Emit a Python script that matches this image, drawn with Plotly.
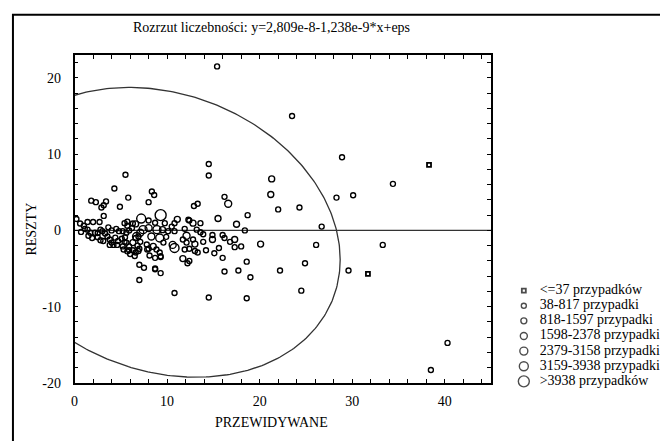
import numpy as np
import plotly.graph_objects as go

W, H = 660, 441
FONT = "Liberation Serif, Times New Roman, serif"

title_text = "Rozrzut liczebności: y=2,809e-8-1,238e-9*x+eps"
x_title = "PRZEWIDYWANE"
y_title = "RESZTY"

legend_labels = ["<=37 przypadków", "38-817 przypadki", "818-1597 przypadki",
                 "1598-2378 przypadki", "2379-3158 przypadki",
                 "3159-3938 przypadki", ">3938 przypadków"]

# points by frequency class (x = predicted, y = residual)
c0_x = [38.3, 31.7]
c0_y = [8.6, -5.7]

c1 = [(15.4,21.5),(23.5,15.0),(28.9,9.6),(34.4,6.1),(14.5,8.7),(14.5,7.2),(28.3,4.3),(30.1,4.6),
      (16.2,4.4),(18.7,2.0),(22.0,2.75),(24.3,3.0),(18.4,0.0),(26.7,0.5),(14.9,-0.6),(16.0,-0.6),
      (16.2,-1.0),(16.8,-1.5),(17.3,-2.2),(18.0,-2.1),(26.1,-1.9),(33.3,-1.9),(18.6,-4.1),(24.9,-4.3),
      (16.2,-5.4),(17.7,-5.25),(19.0,-6.15),(22.2,-5.25),(29.6,-5.25),(24.5,-7.9),(40.3,-14.75),
      (38.5,-18.3),(18.6,-8.9),(14.5,-8.8),(10.8,-8.2),(12.2,-4.3),(7.0,-6.5),(7.0,-4.5),(7.5,-4.9),
      (8.7,-5.1),(9.3,-5.6),(9.3,-3.4),(13.9,-0.5),(13.9,-1.5),
      (5.5,7.3),(4.3,5.5),(5.8,4.3),(8.35,5.1),(8.6,4.65),(8.0,3.7),(1.8,3.9),(2.3,3.7),(3.4,3.8),
      (3.15,3.3),(2.9,3.0),(4.9,3.1),(12.9,3.2),(13.3,3.5),(12.3,1.4),(0.2,1.5),(3.15,1.9),(1.4,1.1),
      (2.0,1.1),(2.7,1.1),(1.4,0.1),(1.1,0.2),(1.7,-0.3),(2.2,-0.3),(1.5,-0.7),(2.5,-0.35),(2.5,-0.9),
      (2.8,0.1),(3.0,-0.1),(3.3,-0.4),(3.55,-0.8),(2.8,-1.3),(3.1,-1.4),(3.8,-1.2),(4.0,-1.6),
      (4.4,-0.95),(3.8,-1.9),(4.2,-1.9),(4.6,-1.9),(4.7,-1.4),(5.1,-1.1),(5.4,-1.5),(5.2,-2.1),
      (5.45,-0.9),(5.4,0.95),(5.7,1.15),(5.7,0.6),(6.2,0.3),(6.3,0.9),(4.0,0.0),(4.5,0.2),(4.8,-0.1),
      (5.2,-0.1),(5.6,-0.3),(5.9,0.0),(3.65,0.4),(5.3,-2.5),(5.7,-2.75),(5.9,-2.1),(6.3,-2.6),
      (6.6,-2.9),(6.9,-2.7),(6.8,-2.0),(7.1,-1.5),(6.6,-1.0),(6.9,-0.8),
      (8.0,1.3),(8.7,1.0),(9.75,0.95),(10.5,0.5),(10.8,0.95),(12.4,1.3),(13.2,0.1),(13.6,-0.25),
      (11.9,0.2),(10.1,-0.1),(10.8,-0.1),(9.9,-0.85),(11.7,-1.2),(12.1,-1.6),(12.8,-1.2),(5.6,-1.6),
      (7.8,-1.85),(9.6,-1.6),(5.9,-2.6),(7.0,-2.4),(7.85,-2.5),(8.85,-2.5),(9.2,-2.9),(6.0,-3.1),
      (6.5,-3.35),(8.0,-2.4),(8.1,-3.3),(8.7,-3.6),(9.3,-3.5),(11.9,-2.5),(12.4,-2.4),(13.0,-2.7),
      (13.3,-2.9),(12.4,-4.0),(8.7,-5.0),(0.7,-0.2),(1.0,0.6),(0.6,0.9),(1.9,-1.0),(13.6,0.95),
      (14.2,-2.6),(15.1,-3.0),(15.6,-2.3),(16.0,-3.6)]
c1_x = [p[0] for p in c1]
c1_y = [p[1] for p in c1]

c2_x = [21.3, 21.2, 15.5, 17.5, 14.9, 17.3, 20.1, 6.6, 9.5, 12.8, 11.1, 6.3, 13.0, 11.7, 8.5]
c2_y = [6.75, 4.7, 1.55, 0.8, -1.2, -1.2, -1.8, 0.85, 0.1, 0.95, 1.45, -1.6, -1.8, -3.7, -2.1]

c3_x = [16.6, 8.0, 7.1, 10.6, 12.1, 8.3]
c3_y = [3.5, 0.3, -0.3, -1.9, -0.7, -0.8]

c4_x = [7.4, 8.9, 9.2, 6.7]
c4_y = [0.1, 0.1, -1.0, -0.8]

c5_x = [7.2, 10.8]
c5_y = [1.55, -2.3]

c6_x = [9.3]
c6_y = [2.0]

# residual line and ellipse parameters
line_x = [0, 45]
line_y = [0, 0]
ell_cx, ell_cy, ell_rx, ell_ry, ell_d = 9.5, -0.25, 19.2, 19.0, -0.19

x_range = [0, 45]
y_range = [-20, 23]
x_tickvals = list(range(0, 46, 2))
x_ticktext = [str(v) if v % 10 == 0 else "" for v in x_tickvals]
y_tickvals = list(range(-20, 23, 2))
y_ticktext = [str(v) if v % 10 == 0 else "" for v in y_tickvals]

sizes = [4, 5, 6, 7, 8, 9, 11]
symbols = ["square-open"] + ["circle-open"] * 6

fig = go.Figure()

t = np.linspace(0, 2 * np.pi, 400)
ex = ell_cx + ell_rx * np.cos(t)
ey = ell_cy + ell_ry * np.sin(t + ell_d)
fig.add_trace(go.Scatter(x=ex, y=ey, mode="lines", line=dict(color="#333333", width=1.3),
                         hoverinfo="skip"))
fig.add_trace(go.Scatter(x=line_x, y=line_y, mode="lines", line=dict(color="#333333", width=1.2),
                         hoverinfo="skip"))

groups = [(c0_x, c0_y), (c1_x, c1_y), (c2_x, c2_y), (c3_x, c3_y), (c4_x, c4_y), (c5_x, c5_y), (c6_x, c6_y)]
for i, (gx, gy) in enumerate(groups):
    fig.add_trace(go.Scatter(x=gx, y=gy, mode="markers", name=legend_labels[i],
                             marker=dict(symbol=symbols[i], size=sizes[i], color="black",
                                         line=dict(width=1.4 if i else 1.8, color="black")),
                             cliponaxis=True))

# manual legend drawn on an auxiliary axis measured in figure pixels
leg_mx, leg_tx, leg_y0, leg_dy = 523, 539, 296, 15.4
leg_y = [leg_y0 + i * leg_dy for i in range(len(legend_labels))]
fig.add_trace(go.Scatter(x=[leg_mx] * len(legend_labels), y=leg_y, xaxis="x2", yaxis="y2",
                         mode="markers",
                         marker=dict(symbol=symbols, size=sizes, color="black",
                                     line=dict(width=[1.8] + [1.4] * 6, color="black")),
                         cliponaxis=False, hoverinfo="skip"))
fig.add_trace(go.Scatter(x=[leg_tx] * len(legend_labels), y=leg_y, xaxis="x2", yaxis="y2",
                         mode="text", text=legend_labels, textposition="middle right",
                         textfont=dict(family=FONT, size=14, color="black"),
                         cliponaxis=False, hoverinfo="skip"))

axis_common = dict(showline=True, linecolor="black", linewidth=1.5, mirror="allticks",
                   ticks="inside", ticklen=4, tickwidth=1, tickcolor="black",
                   showgrid=False, zeroline=False,
                   tickfont=dict(family=FONT, size=14, color="black"))

fig.update_layout(
    width=W, height=H, margin=dict(l=0, r=0, t=0, b=0),
    paper_bgcolor="white", plot_bgcolor="rgba(0,0,0,0)", showlegend=False,
    xaxis=dict(domain=[71 / W, 490 / W], range=x_range, tickmode="array",
               tickvals=x_tickvals, ticktext=x_ticktext, anchor="y", ticklabelstandoff=5, **axis_common),
    yaxis=dict(domain=[1 - 390 / H, 1 - 56 / H], range=y_range, tickmode="array",
               tickvals=y_tickvals, ticktext=y_ticktext, anchor="x", ticklabelstandoff=9, **axis_common),
    xaxis2=dict(domain=[500 / W, 1], range=[500, W], visible=False, anchor="y2"),
    yaxis2=dict(domain=[0, 1], range=[H, 0], visible=False, anchor="x2"),
    shapes=[dict(type="rect", xref="paper", yref="paper", x0=9 / W, x1=1.05, y0=-0.05, y1=1 - 15 / H,
                 line=dict(color="black", width=2), layer="below")],
    annotations=[
        dict(text=title_text, x=269 / W, y=1 - 28 / H, xref="paper", yref="paper", showarrow=False,
             xanchor="center", yanchor="middle", font=dict(family=FONT, size=14, color="black")),
        dict(text=x_title, x=269 / W, y=1 - 430 / H, xref="paper", yref="paper", showarrow=False,
             xanchor="center", yanchor="middle", font=dict(family=FONT, size=14, color="black")),
        dict(text=y_title, x=28 / W, y=1 - 233 / H, xref="paper", yref="paper", showarrow=False,
             textangle=-90, xanchor="center", yanchor="middle", font=dict(family=FONT, size=14, color="black")),
    ],
)

fig.write_html("out.html")
